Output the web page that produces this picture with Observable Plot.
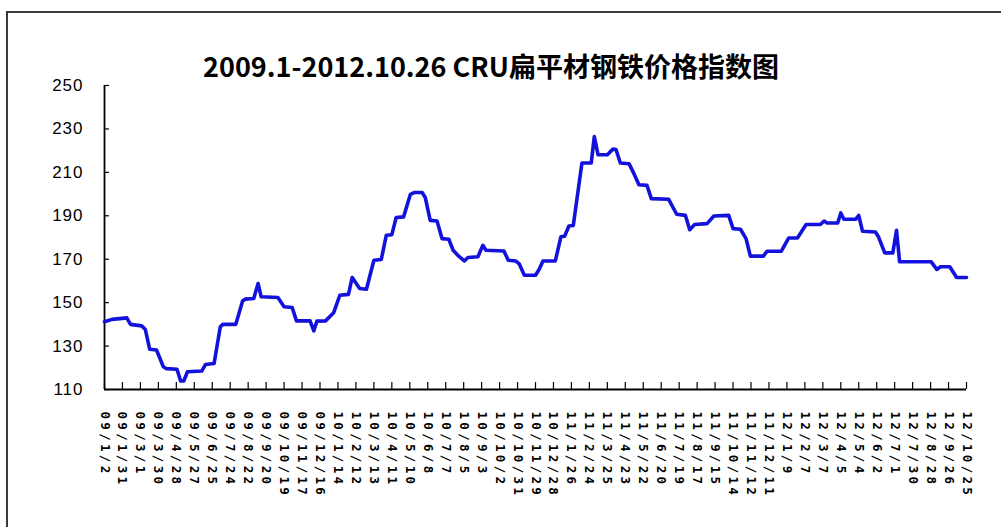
<!DOCTYPE html>
<html><head><meta charset="utf-8">
<script src="https://cdn.jsdelivr.net/npm/d3@7"></script>
<script src="https://cdn.jsdelivr.net/npm/@observablehq/plot@0.6"></script>
<style>
body{margin:0;background:#fff;width:1001px;height:527px;overflow:hidden;position:relative;}
#frame{position:absolute;left:6px;top:11px;width:1100px;height:600px;border-left:2px solid #3a3a3a;border-top:2px solid #3a3a3a;}
#title{position:absolute;left:0;width:982px;top:46px;text-align:center;font:bold 27px "Noto Sans CJK SC";color:#000;}
#chart{position:absolute;left:0;top:0;}
#chart svg g[aria-label="x-axis tick label"] text{letter-spacing:3.3px;font-weight:bold;}
#chart svg g[aria-label="y-axis tick label"] text{letter-spacing:1px;}
</style></head><body>
<div id="frame"></div>
<div id="title">2009.1-2012.10.26 CRU扁平材钢铁价格指数图</div>
<div id="chart"></div>
<script>
const dates = ["2009-01-02","2009-01-14","2009-02-07","2009-02-13","2009-03-03","2009-03-09","2009-03-16","2009-03-27","2009-04-07","2009-04-12","2009-04-29","2009-05-05","2009-05-10","2009-05-16","2009-06-08","2009-06-14","2009-06-28","2009-07-08","2009-07-12","2009-08-02","2009-08-13","2009-08-17","2009-08-31","2009-09-07","2009-09-12","2009-10-09","2009-10-19","2009-11-01","2009-11-08","2009-11-30","2009-12-06","2009-12-11","2009-12-25","2010-01-07","2010-01-17","2010-01-31","2010-02-06","2010-02-18","2010-03-01","2010-03-13","2010-03-25","2010-04-02","2010-04-11","2010-04-18","2010-04-30","2010-05-11","2010-05-17","2010-05-30","2010-06-04","2010-06-12","2010-06-23","2010-07-01","2010-07-12","2010-07-19","2010-07-28","2010-08-06","2010-08-12","2010-08-28","2010-09-05","2010-09-10","2010-10-09","2010-10-16","2010-10-28","2010-11-03","2010-11-11","2010-11-29","2010-12-05","2010-12-11","2010-12-31","2011-01-09","2011-01-15","2011-01-22","2011-01-29","2011-02-12","2011-02-27","2011-03-04","2011-03-10","2011-03-25","2011-04-03","2011-04-08","2011-04-15","2011-04-29","2011-05-07","2011-05-15","2011-05-28","2011-06-04","2011-07-02","2011-07-15","2011-07-29","2011-08-05","2011-08-13","2011-09-02","2011-09-13","2011-10-07","2011-10-14","2011-10-26","2011-11-04","2011-11-11","2011-12-02","2011-12-08","2011-12-31","2012-01-12","2012-01-26","2012-02-09","2012-03-03","2012-03-09","2012-03-14","2012-03-31","2012-04-05","2012-04-10","2012-04-29","2012-05-04","2012-05-10","2012-05-31","2012-06-05","2012-06-15","2012-06-28","2012-07-04","2012-07-09","2012-08-29","2012-09-07","2012-09-13","2012-09-28","2012-10-09","2012-10-25"];
const values = [141.2,142.3,143.0,140.0,139.3,137.6,128.5,128.2,120.5,119.6,119.3,113.9,113.9,118.2,118.5,121.5,122.0,138.9,140.0,140.0,150.8,151.6,151.9,158.8,152.7,152.4,148.1,147.8,141.6,141.6,137.0,141.5,141.6,145.3,153.4,153.8,161.6,156.5,156.2,169.5,169.9,181.0,181.3,189.2,189.5,199.9,200.7,200.7,198.4,187.9,187.6,179.5,179.2,174.1,171.4,169.2,170.8,171.1,176.4,174.1,173.8,169.5,169.2,167.7,162.6,162.6,165.4,169.2,169.2,180.3,180.6,185.3,185.5,214.3,214.3,226.5,218.1,218.1,220.7,220.5,214.3,214.0,209.4,204.3,204.0,197.9,197.6,190.7,190.2,183.6,186.0,186.4,189.9,190.2,184.1,183.8,179.5,171.4,171.4,173.7,173.7,179.8,179.8,186.0,186.0,187.6,186.7,186.7,191.3,188.4,188.4,190.2,182.9,182.5,180.2,172.9,172.9,183.3,168.8,168.8,165.3,166.5,166.5,161.6,161.6];
const yTicks = [110,130,150,170,190,210,230,250];
const tickDates = ["2009-01-02","2009-01-31","2009-03-01","2009-03-30","2009-04-28","2009-05-27","2009-06-25","2009-07-24","2009-08-22","2009-09-20","2009-10-19","2009-11-17","2009-12-16","2010-01-14","2010-02-12","2010-03-13","2010-04-11","2010-05-10","2010-06-08","2010-07-07","2010-08-05","2010-09-03","2010-10-02","2010-10-31","2010-11-29","2010-12-28","2011-01-26","2011-02-24","2011-03-25","2011-04-23","2011-05-22","2011-06-20","2011-07-19","2011-08-17","2011-09-15","2011-10-14","2011-11-12","2011-12-11","2012-01-09","2012-02-07","2012-03-07","2012-04-05","2012-05-04","2012-06-02","2012-07-01","2012-07-30","2012-08-28","2012-09-26","2012-10-25"];
const tickLabels = ["09/1/2","09/1/31","09/3/1","09/3/30","09/4/28","09/5/27","09/6/25","09/7/24","09/8/22","09/9/20","09/10/19","09/11/17","09/12/16","10/1/14","10/2/12","10/3/13","10/4/11","10/5/10","10/6/8","10/7/7","10/8/5","10/9/3","10/10/2","10/10/31","10/11/29","10/12/28","11/1/26","11/2/24","11/3/25","11/4/23","11/5/22","11/6/20","11/7/19","11/8/17","11/9/15","11/10/14","11/11/12","11/12/11","12/1/9","12/2/7","12/3/7","12/4/5","12/5/4","12/6/2","12/7/1","12/7/30","12/8/28","12/9/26","12/10/25"];

const data = dates.map((d, i) => ({date: new Date(d), value: values[i]}));
const ticks = tickDates.map(d => new Date(d));
const labelMap = new Map(ticks.map((t, i) => [+t, tickLabels[i]]));
const x0 = ticks[0], x1 = ticks[ticks.length - 1];

const chart = Plot.plot({
  width: 1001, height: 527,
  marginLeft: 104, marginRight: 35, marginTop: 85, marginBottom: 138,
  style: {background: "transparent", color: "#000"},
  x: {type: "utc", domain: [x0, x1]},
  y: {domain: [110, 250]},
  marks: [
    Plot.ruleY(yTicks, {y: d => d, x1: x0, x2: d3.utcDay.offset(x0, 8), stroke: "#000", strokeWidth: 1.2}),
    Plot.ruleX(ticks, {x: d => d, y1: 110, y2: 113.2, stroke: "#000", strokeWidth: 1.2}),
    Plot.ruleX([x0], {y1: 110, y2: 250, stroke: "#000", strokeWidth: 1.8}),
    Plot.ruleY([110], {x1: x0, x2: x1, stroke: "#000", strokeWidth: 1.8}),
    Plot.axisY({ticks: yTicks, tickSize: 0, tickPadding: 21, fontSize: 17, fontFamily: "Liberation Sans", label: null}),
    Plot.axisX({ticks: ticks, tickFormat: d => labelMap.get(+d), tickRotate: 90, tickSize: 0, tickPadding: 22, fontSize: 12.5, fontFamily: "DejaVu Sans Mono", label: null}),
    Plot.line(data, {x: "date", y: "value", stroke: "#1212dc", strokeWidth: 3.6, strokeLinejoin: "round", strokeLinecap: "round"})
  ]
});
document.getElementById("chart").appendChild(chart);
</script>
</body></html>
